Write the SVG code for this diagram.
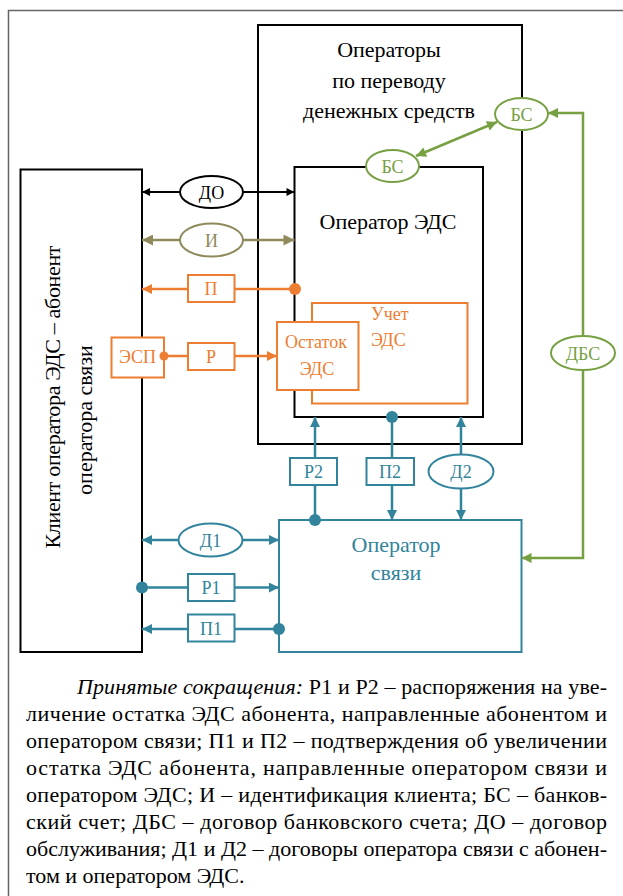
<svg xmlns="http://www.w3.org/2000/svg" width="623" height="896" viewBox="0 0 623 896" font-family="'Liberation Serif', 'Times New Roman', serif">
<style>
.bk{fill:none;stroke:#000;stroke-width:2}
.or{fill:#fff;stroke:#ED7D31;stroke-width:2}
.tl{fill:#fff;stroke:#31849B;stroke-width:2}
.gr{fill:#fff;stroke:#77A043;stroke-width:2}
.ol{fill:#fff;stroke:#8F8A5C;stroke-width:2}
.tor{fill:#ED7D31}
.ttl{fill:#31849B}
.tgr{fill:#77A043}
.tol{fill:#8F8A5C}
.c{text-anchor:middle}
.s18{font-size:18px}
.s22{font-size:22px}
</style>
<defs>
<marker id="aBk" viewBox="0 0 10 10" refX="10" refY="5" markerWidth="9" markerHeight="8" markerUnits="userSpaceOnUse" orient="auto-start-reverse"><path d="M0,0L10,5L0,10z" fill="#000"/></marker>
<marker id="aOl" viewBox="0 0 10 10" refX="10" refY="5" markerWidth="12" markerHeight="11" markerUnits="userSpaceOnUse" orient="auto-start-reverse"><path d="M0,0L10,5L0,10z" fill="#8F8A5C"/></marker>
<marker id="aOr" viewBox="0 0 10 10" refX="10" refY="5" markerWidth="11" markerHeight="10" markerUnits="userSpaceOnUse" orient="auto-start-reverse"><path d="M0,0L10,5L0,10z" fill="#ED7D31"/></marker>
<marker id="aTl" viewBox="0 0 10 10" refX="10" refY="5" markerWidth="11" markerHeight="10" markerUnits="userSpaceOnUse" orient="auto-start-reverse"><path d="M0,0L10,5L0,10z" fill="#31849B"/></marker>
<marker id="aGr" viewBox="0 0 10 10" refX="10" refY="5" markerWidth="12" markerHeight="10" markerUnits="userSpaceOnUse" orient="auto-start-reverse"><path d="M0,0L10,5L0,10z" fill="#77A043"/></marker>
</defs>

<path d="M8.5,896 V10.5 H623" fill="none" stroke="#666" stroke-width="1.5"/>

<g id="operators-transfer">
<rect x="258" y="25" width="264" height="419" class="bk"/>
<text x="389" y="57" class="c s22">Операторы</text>
<text x="389" y="88" class="c s22">по переводу</text>
<text x="389" y="118" class="c s22">денежных средств</text>
</g>

<g id="client">
<rect x="20.5" y="169.5" width="121.5" height="482.5" class="bk"/>
<text transform="translate(60,397) rotate(-90)" class="c s22" textLength="303" lengthAdjust="spacing">Клиент оператора ЭДС  –  абонент</text>
<text transform="translate(92,420) rotate(-90)" class="c s22">оператора связи</text>
</g>

<g id="operator-eds">
<rect x="294.5" y="167" width="188.5" height="250" class="bk" fill="#fff"/>
<text x="388" y="229" class="c s22">Оператор ЭДС</text>
</g>

<g id="operator-svyazi">
<rect x="279" y="520" width="242.5" height="132" class="tl"/>
<text x="396" y="552" class="c s22 ttl">Оператор</text>
<text x="396" y="580" class="c s22 ttl">связи</text>
</g>

<g id="uchet-eds">
<rect x="312" y="303" width="155.5" height="100.5" class="or"/>
<text x="371" y="320" class="s18 tor">Учет</text>
<text x="371" y="346" class="s18 tor">ЭДС</text>
</g>

<g id="ostatok-eds">
<rect x="277" y="322" width="81.5" height="68" class="or"/>
<text x="316" y="348" class="c s18 tor">Остаток</text>
<text x="317" y="375" class="c s18 tor">ЭДС</text>
</g>

<g id="esp">
<rect x="111.5" y="337.5" width="52.5" height="40" class="or"/>
<text x="137.5" y="363" class="c s18 tor">ЭСП</text>
</g>

<g id="connectors">
<line x1="142" y1="192" x2="294.5" y2="192" stroke="#000" stroke-width="2" marker-start="url(#aBk)" marker-end="url(#aBk)"/>
<line x1="142" y1="240" x2="294.5" y2="240" stroke="#8F8A5C" stroke-width="2.5" marker-start="url(#aOl)" marker-end="url(#aOl)"/>
<line x1="295" y1="289" x2="142" y2="289" stroke="#ED7D31" stroke-width="2.5" marker-end="url(#aOr)"/>
<line x1="164" y1="356" x2="277" y2="356" stroke="#ED7D31" stroke-width="2.5" marker-end="url(#aOr)"/>
<line x1="416" y1="156" x2="497" y2="122" stroke="#77A043" stroke-width="2.5" marker-start="url(#aGr)" marker-end="url(#aGr)"/>
<path d="M521.5,558 H583 V113 H548" fill="none" stroke="#77A043" stroke-width="2.5" marker-start="url(#aGr)" marker-end="url(#aGr)"/>
<line x1="315" y1="520" x2="315" y2="417" stroke="#31849B" stroke-width="2.5" marker-end="url(#aTl)"/>
<line x1="392" y1="417" x2="392" y2="520" stroke="#31849B" stroke-width="2.5" marker-end="url(#aTl)"/>
<line x1="461" y1="417" x2="461" y2="520" stroke="#31849B" stroke-width="2.5" marker-start="url(#aTl)" marker-end="url(#aTl)"/>
<line x1="142" y1="540" x2="279" y2="540" stroke="#31849B" stroke-width="2.5" marker-start="url(#aTl)" marker-end="url(#aTl)"/>
<line x1="142" y1="587.5" x2="279" y2="587.5" stroke="#31849B" stroke-width="2.5" marker-end="url(#aTl)"/>
<line x1="279" y1="629" x2="142" y2="629" stroke="#31849B" stroke-width="2.5" marker-end="url(#aTl)"/>
<circle cx="295" cy="289" r="6" fill="#ED7D31"/>
<circle cx="164" cy="356" r="4.5" fill="#ED7D31"/>
<circle cx="392" cy="417" r="6" fill="#31849B"/>
<circle cx="315" cy="520" r="6" fill="#31849B"/>
<circle cx="142" cy="587.5" r="6" fill="#31849B"/>
<circle cx="279" cy="629" r="6" fill="#31849B"/>
</g>

<g id="do"><ellipse cx="211.5" cy="192" rx="31.5" ry="16" fill="#fff" stroke="#000" stroke-width="2"/><text x="211.5" y="198.5" class="c s18">ДО</text></g>
<g id="i"><ellipse cx="211.5" cy="240" rx="31.5" ry="16.5" class="ol"/><text x="211.5" y="246.5" class="c s18 tol">И</text></g>
<g id="p"><rect x="188" y="275" width="46.5" height="27" class="or"/><text x="211" y="295" class="c s18 tor">П</text></g>
<g id="r"><rect x="188" y="343" width="46.5" height="27" class="or"/><text x="211" y="363" class="c s18 tor">Р</text></g>
<g id="bs1"><ellipse cx="392.5" cy="166" rx="26.5" ry="16" class="gr"/><text x="392.5" y="172.5" class="c s18 tgr">БС</text></g>
<g id="bs2"><ellipse cx="521.5" cy="114" rx="26.5" ry="16" class="gr"/><text x="521.5" y="120.5" class="c s18 tgr">БС</text></g>
<g id="dbs"><ellipse cx="583" cy="353" rx="32" ry="17" class="gr"/><text x="583" y="359.5" class="c s18 tgr">ДБС</text></g>
<g id="r2"><rect x="290" y="458" width="47" height="27" class="tl"/><text x="313.5" y="478" class="c s18 ttl">Р2</text></g>
<g id="p2"><rect x="366.5" y="458" width="47.5" height="27" class="tl"/><text x="390" y="478" class="c s18 ttl">П2</text></g>
<g id="d2"><ellipse cx="461" cy="471.5" rx="32.5" ry="17" class="tl"/><text x="461" y="478" class="c s18 ttl">Д2</text></g>
<g id="d1"><ellipse cx="210.5" cy="540" rx="32" ry="16.5" class="tl"/><text x="210.5" y="546.5" class="c s18 ttl">Д1</text></g>
<g id="r1"><rect x="188" y="574" width="46.5" height="27" class="tl"/><text x="211" y="594" class="c s18 ttl">Р1</text></g>
<g id="p1"><rect x="188" y="614.5" width="46.5" height="27" class="tl"/><text x="211" y="634.5" class="c s18 ttl">П1</text></g>

<g id="caption" font-size="22">
<text x="77" y="694" textLength="530" lengthAdjust="spacing"><tspan font-style="italic">Принятые сокращения:</tspan> Р1 и Р2 – распоряжения на уве-</text>
<text x="26" y="721" textLength="581" lengthAdjust="spacing">личение остатка ЭДС абонента, направленные абонентом и</text>
<text x="26" y="748" textLength="581" lengthAdjust="spacing">оператором связи; П1 и П2 – подтверждения об увеличении</text>
<text x="26" y="775" textLength="581" lengthAdjust="spacing">остатка ЭДС абонента, направленные оператором связи и</text>
<text x="26" y="802" textLength="581" lengthAdjust="spacing">оператором ЭДС; И – идентификация клиента; БС – банков-</text>
<text x="26" y="829" textLength="581" lengthAdjust="spacing">ский счет; ДБС – договор банковского счета; ДО – договор</text>
<text x="26" y="856" textLength="581" lengthAdjust="spacing">обслуживания; Д1 и Д2 – договоры оператора связи с абонен-</text>
<text x="26" y="883">том и оператором ЭДС.</text>
</g>
</svg>
